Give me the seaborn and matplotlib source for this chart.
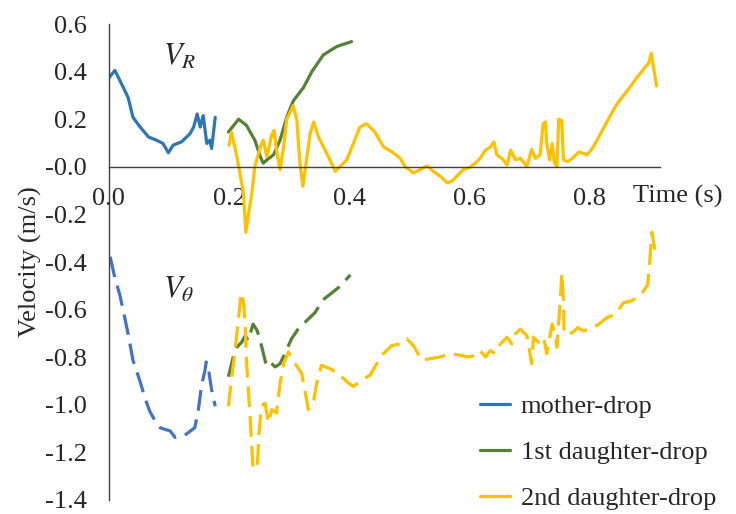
import numpy as np
import pandas as pd
import matplotlib
matplotlib.use('Agg')
import matplotlib.pyplot as plt
import seaborn as sns
from matplotlib.lines import Line2D
from matplotlib.ticker import FormatStrFormatter

# radial velocity V_R (s, m/s)
mother_t_r = [0.000, 0.010, 0.024, 0.032, 0.040, 0.052, 0.066, 0.079, 0.090, 0.099, 0.107,
              0.121, 0.135, 0.141, 0.147, 0.152, 0.157, 0.163, 0.168, 0.171, 0.177]
mother_vr = [0.374, 0.405, 0.333, 0.291, 0.208, 0.167, 0.125, 0.112, 0.098, 0.059, 0.091,
             0.105, 0.139, 0.167, 0.222, 0.167, 0.215, 0.098, 0.112, 0.077, 0.208]

first_t_r = [0.199, 0.216, 0.229, 0.243, 0.252, 0.257, 0.263, 0.274, 0.285, 0.296, 0.307,
             0.324, 0.338, 0.357, 0.379, 0.404]
first_vr = [0.146, 0.200, 0.174, 0.112, 0.043, 0.015, 0.029, 0.050, 0.112, 0.208, 0.277,
            0.333, 0.400, 0.470, 0.505, 0.526]

second_t_r = [0.200, 0.204, 0.213, 0.218, 0.224, 0.228, 0.232, 0.238, 0.243, 0.252, 0.257,
              0.263, 0.271, 0.275, 0.279, 0.285, 0.291, 0.296, 0.307, 0.313, 0.318, 0.323,
              0.329, 0.335, 0.341, 0.349, 0.360, 0.368, 0.377, 0.385, 0.396, 0.407, 0.418,
              0.429, 0.443, 0.457, 0.471, 0.485, 0.493, 0.507, 0.518, 0.530, 0.540, 0.552,
              0.563, 0.571, 0.579, 0.590, 0.602, 0.613, 0.618, 0.627, 0.635, 0.641, 0.646,
              0.654, 0.663, 0.669, 0.677, 0.685, 0.696, 0.704, 0.710, 0.718, 0.723, 0.727,
              0.729, 0.734, 0.738, 0.742, 0.746, 0.749, 0.754, 0.757, 0.764, 0.772, 0.783,
              0.796, 0.803, 0.813, 0.829, 0.846, 0.863, 0.879, 0.890, 0.899, 0.903, 0.912]
second_vr = [0.091, 0.146, 0.043, -0.026, -0.109, -0.275, -0.206, -0.109, 0.001, 0.084, 0.112,
             0.043, 0.132, 0.153, 0.070, -0.012, 0.084, 0.200, 0.257, 0.195, 0.015, -0.082,
             0.029, 0.139, 0.188, 0.125, 0.070, 0.029, -0.019, 0.001, 0.029, 0.098, 0.167,
             0.181, 0.146, 0.084, 0.063, 0.036, 0.001, -0.026, -0.012, 0.004, -0.019, -0.040,
             -0.067, -0.061, -0.040, -0.012, -0.001, 0.022, 0.036, 0.070, 0.082, 0.105, 0.050,
             0.036, 0.008, 0.070, 0.029, 0.036, 0.001, 0.073, 0.036, 0.050, 0.181, 0.188,
             0.098, 0.029, 0.098, 0.015, 0.001, 0.200, 0.195, 0.029, 0.022, 0.036, 0.063,
             0.050, 0.070, 0.112, 0.188, 0.264, 0.319, 0.374, 0.409, 0.436, 0.476, 0.340]

# azimuthal velocity V_theta (s, m/s)
mother_t_th = [0.002, 0.010, 0.018, 0.024, 0.032, 0.040, 0.052, 0.060, 0.068, 0.077, 0.085,
               0.093, 0.102, 0.110, 0.118, 0.129, 0.143, 0.149, 0.154, 0.160, 0.162, 0.166,
               0.171, 0.177]
mother_vth = [-0.378, -0.468, -0.537, -0.606, -0.703, -0.813, -0.903, -0.972, -1.027, -1.068,
              -1.096, -1.103, -1.110, -1.137, -1.130, -1.123, -1.096, -1.020, -0.923, -0.854,
              -0.820, -0.854, -0.937, -1.006]

first_t_th = [0.199, 0.207, 0.213, 0.221, 0.227, 0.232, 0.240, 0.247, 0.254, 0.262, 0.268,
              0.277, 0.285, 0.293, 0.304, 0.315, 0.329, 0.343, 0.357, 0.371, 0.385, 0.402]
first_vth = [-0.882, -0.799, -0.758, -0.737, -0.709, -0.730, -0.661, -0.689, -0.751, -0.834,
             -0.820, -0.841, -0.827, -0.785, -0.723, -0.682, -0.647, -0.613, -0.558, -0.530,
             -0.502, -0.454]

second_t_th = [0.199, 0.204, 0.210, 0.216, 0.220, 0.224, 0.227, 0.229, 0.235, 0.240, 0.247,
               0.250, 0.254, 0.260, 0.266, 0.271, 0.279, 0.285, 0.291, 0.299, 0.310, 0.321,
               0.327, 0.332, 0.341, 0.346, 0.354, 0.368, 0.382, 0.396, 0.407, 0.421, 0.435,
               0.446, 0.457, 0.471, 0.485, 0.496, 0.507, 0.521, 0.535, 0.552, 0.568, 0.585,
               0.599, 0.610, 0.618, 0.627, 0.635, 0.643, 0.652, 0.663, 0.671, 0.677, 0.685,
               0.696, 0.704, 0.707, 0.715, 0.724, 0.729, 0.738, 0.743, 0.746, 0.752, 0.754,
               0.757, 0.758, 0.764, 0.772, 0.781, 0.789, 0.802, 0.816, 0.829, 0.843, 0.857,
               0.868, 0.879, 0.890, 0.897, 0.900, 0.904, 0.908, 0.912]
second_vth = [-1.006, -0.896, -0.772, -0.634, -0.530, -0.565, -0.661, -0.813, -1.048, -1.268,
              -1.262, -1.117, -1.006, -0.993, -1.075, -1.020, -1.034, -0.910, -0.827, -0.778,
              -0.827, -0.868, -0.951, -1.020, -0.979, -0.910, -0.834, -0.848, -0.868, -0.903,
              -0.923, -0.896, -0.875, -0.827, -0.785, -0.751, -0.744, -0.723, -0.751, -0.813,
              -0.806, -0.799, -0.785, -0.792, -0.799, -0.792, -0.772, -0.799, -0.772, -0.785,
              -0.744, -0.716, -0.744, -0.702, -0.682, -0.709, -0.827, -0.716, -0.737, -0.716,
              -0.785, -0.661, -0.702, -0.758, -0.551, -0.447, -0.565, -0.702, -0.702, -0.696,
              -0.675, -0.689, -0.682, -0.661, -0.634, -0.620, -0.571, -0.565, -0.551, -0.523,
              -0.496, -0.420, -0.275, -0.330, -0.385]

labels = ['mother-drop', '1st daughter-drop', '2nd daughter-drop']
colors_r = ['#2E75B6', '#548235', '#FFC000']
colors_th = ['#4472C4', '#548235', '#FFC000']

sns.set_style('white')
plt.rcParams['font.family'] = ['Liberation Serif', 'DejaVu Serif']
plt.rcParams['mathtext.fontset'] = 'stix'
plt.rcParams['axes.unicode_minus'] = False
fs = 19

fig = plt.figure(figsize=(7.36, 5.14), dpi=100)
ax = fig.add_axes([0.148, 1 - 500 / 514, 0.749, 476 / 514])

radial = [(mother_t_r, mother_vr), (first_t_r, first_vr), (second_t_r, second_vr)]
azim = [(mother_t_th, mother_vth), (first_t_th, first_vth), (second_t_th, second_vth)]

for (t, v), c in zip(radial, colors_r):
    sns.lineplot(x=t, y=v, color=c, linewidth=2.3, estimator=None, sort=False, ax=ax)
for (t, v), c in zip(azim, colors_th):
    sns.lineplot(x=t, y=v, color=c, linewidth=2.3, estimator=None, sort=False, ax=ax,
                 dashes=False, linestyle=(0, (6.5, 2.8)))

ax.set_xlim(0, 0.918)
ax.set_ylim(-1.4, 0.6)
ax.set_xticks([0.0, 0.2, 0.4, 0.6, 0.8])
ax.set_yticks(np.arange(-1.4, 0.61, 0.2))
ax.xaxis.set_major_formatter(FormatStrFormatter('%.1f'))
ax.yaxis.set_major_formatter(FormatStrFormatter('%.1f'))
ax.tick_params(axis='both', length=0, labelsize=fs)
ax.tick_params(axis='x', pad=15)
ax.tick_params(axis='y', pad=16)

for s in ['top', 'right']:
    ax.spines[s].set_visible(False)
ax.spines['bottom'].set_position(('data', 0))
for s in ['left', 'bottom']:
    ax.spines[s].set_color('#404040')
    ax.spines[s].set_linewidth(1.0)

ax.set_ylabel('Velocity (m/s)', fontsize=fs, labelpad=2)
ax.text(0.872, -0.125, 'Time (s)', fontsize=fs, ha='left', va='center', clip_on=False)
ax.text(0.09, 0.46, r'$V_R$', fontsize=22, ha='left', va='center')
ax.text(0.09, -0.52, r'$V_\theta$', fontsize=22, ha='left', va='center')

handles = [Line2D([0], [0], color=c, linewidth=2.3) for c in colors_r]
ax.legend(handles, labels, loc='upper left', bbox_to_anchor=(480 / 736, 1 - 395 / 514),
          bbox_transform=fig.transFigure, frameon=False, fontsize=fs, borderpad=0,
          borderaxespad=0, handlelength=1.15, handletextpad=0.4, labelspacing=0.85)

fig.savefig('out.png', dpi=100)
